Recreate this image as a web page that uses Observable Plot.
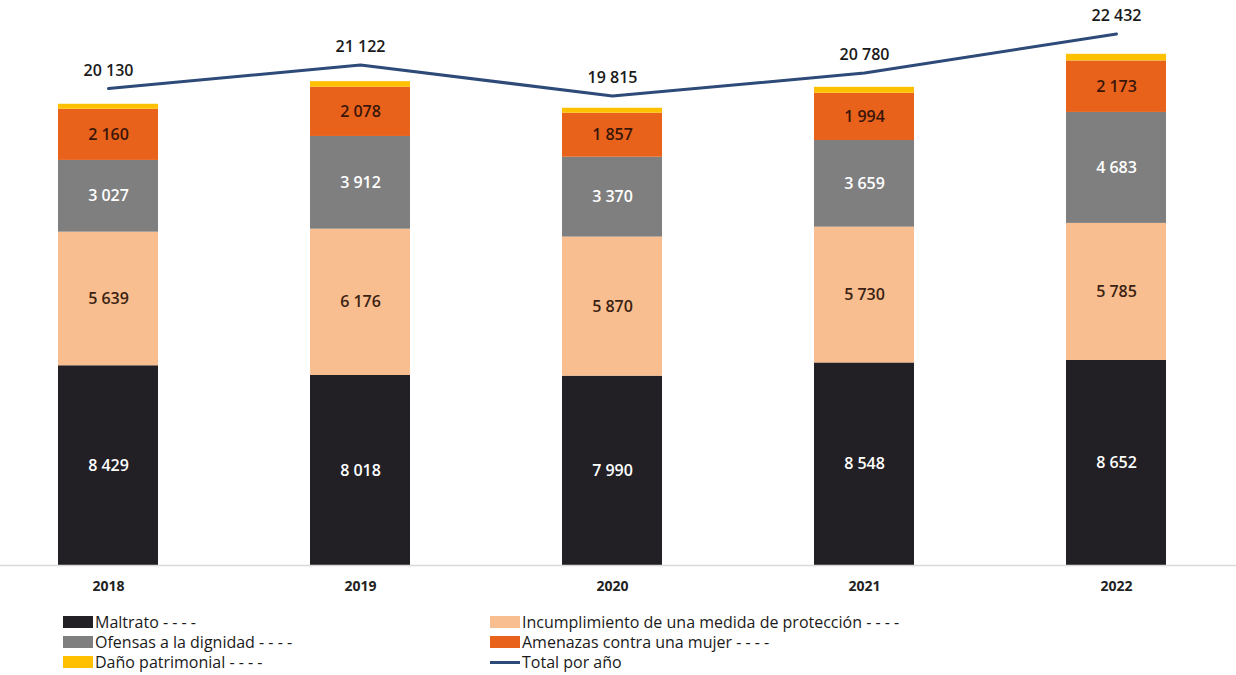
<!DOCTYPE html>
<html>
<head>
<meta charset="utf-8">
<script src="https://cdn.jsdelivr.net/npm/d3@7"></script>
<script src="https://cdn.jsdelivr.net/npm/@observablehq/plot@0.6"></script>
<style>
  html, body { margin: 0; padding: 0; background: #fff; }
  body { width: 1236px; height: 675px; overflow: hidden; font-family: "Open Sans", sans-serif; }
  #legend { position: relative; height: 75px; font-size: 16px; color: #1a1a1a; }
  .item { position: absolute; display: flex; align-items: center; height: 20px; white-space: nowrap; }
  .sw { width: 30px; height: 12px; margin-right: 2px; }
  .ln { width: 30px; height: 3px; margin-right: 2px; }
</style>
</head>
<body>
<div id="chart"></div>
<div id="legend"></div>
<script>
const years = ["2018", "2019", "2020", "2021", "2022"];
const categories = ["Maltrato", "Incumplimiento de una medida de protección", "Ofensas a la dignidad", "Amenazas contra una mujer", "Daño patrimonial"];
const maltrato = [8429, 8018, 7990, 8548, 8652];
const incumplimiento = [5639, 6176, 5870, 5730, 5785];
const ofensas = [3027, 3912, 3370, 3659, 4683];
const amenazas = [2160, 2078, 1857, 1994, 2173];
const dano = [210, 235, 210, 250, 280];
const totales = [20130, 21122, 19815, 20780, 22432];
const colors = ["#221f25", "#f8be90", "#7f7f7f", "#e8621c", "#ffc000"];
const textColors = ["#ffffff", "#3b2212", "#ffffff", "#3a1608", "#000000"];
const lineColor = "#2d4a78";

const series = [maltrato, incumplimiento, ofensas, amenazas, dano];
const rows = [];
years.forEach((yr, i) => {
  categories.forEach((c, j) => {
    rows.push({year: yr, cat: c, value: series[j][i], idx: j});
  });
});
const totalRows = years.map((yr, i) => ({year: yr, total: totales[i]}));
const fmt = d3.formatLocale({thousands: " ", grouping: [3], decimal: ","}).format(",d");

const chart = Plot.plot({
  width: 1236,
  height: 600,
  marginLeft: 0,
  marginRight: 0,
  marginTop: 20,
  marginBottom: 35,
  style: {fontFamily: "'Open Sans', sans-serif", background: "#fff"},
  x: {domain: years, range: [56, 1167], paddingInner: 0.604, paddingOuter: 0, label: null},
  y: {domain: [0, 23000], axis: null},
  color: {domain: categories, range: colors},
  marks: [
    Plot.barY(rows, Plot.stackY({x: "year", y: "value", fill: "cat", order: categories})),
    Plot.text(rows.filter(d => d.idx < 4), Plot.stackY({
      x: "year", y: "value", z: "cat", order: categories,
      text: d => fmt(d.value),
      fill: d => textColors[d.idx],
      fontSize: 16, fontWeight: 600
    })),
    Plot.ruleY([0], {stroke: "#d9d9d9", strokeWidth: 1.5}),
    Plot.lineY(totalRows, {x: "year", y: "total", stroke: lineColor, strokeWidth: 3}),
    Plot.text(totalRows, {x: "year", y: "total", text: d => fmt(d.total), dy: -18, fontSize: 16, fontWeight: 600, fill: "#1a1a1a"}),
    Plot.axisX({tickSize: 0, tickPadding: 16, fontSize: 14, fontWeight: 700, color: "#222", label: null})
  ]
});
document.getElementById("chart").appendChild(chart);

const legend = document.getElementById("legend");
const items = [
  {label: "Maltrato - - - -", color: colors[0], x: 63, row: 0},
  {label: "Incumplimiento de una medida de protección - - - -", color: colors[1], x: 490, row: 0},
  {label: "Ofensas a la dignidad - - - -", color: colors[2], x: 63, row: 1},
  {label: "Amenazas contra una mujer - - - -", color: colors[3], x: 490, row: 1},
  {label: "Daño patrimonial - - - -", color: colors[4], x: 63, row: 2},
  {label: "Total por año", color: lineColor, x: 490, row: 2, line: true}
];
items.forEach(it => {
  const d = document.createElement("div");
  d.className = "item";
  d.style.left = it.x + "px";
  d.style.top = (12 + it.row * 20) + "px";
  const s = document.createElement("span");
  s.className = it.line ? "ln" : "sw";
  s.style.background = it.color;
  d.appendChild(s);
  const t = document.createElement("span");
  t.textContent = it.label;
  d.appendChild(t);
  legend.appendChild(d);
});
</script>
</body>
</html>
